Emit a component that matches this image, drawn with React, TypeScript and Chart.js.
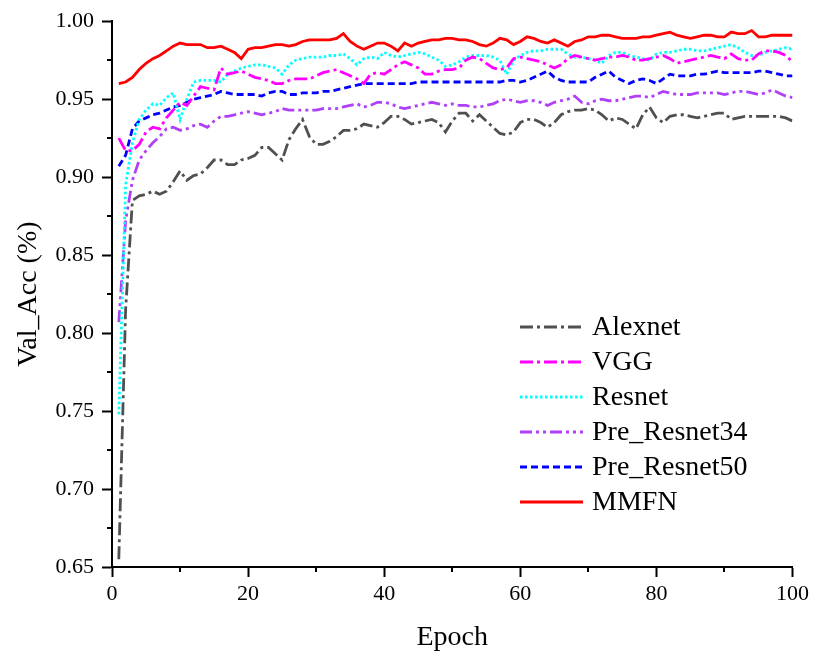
import React, { useEffect, useRef } from "react";
import { Chart, registerables } from "chart.js";

Chart.register(...registerables);

const epochs: number[] = Array.from({ length: 100 }, (_, i) => i + 1);

const alexnet: number[] = [
  0.655, 0.815, 0.885, 0.888, 0.889, 0.891, 0.889, 0.891, 0.897, 0.904,
  0.898, 0.901, 0.902, 0.906, 0.911, 0.911, 0.908, 0.908, 0.911, 0.912,
  0.914, 0.919, 0.919, 0.915, 0.911, 0.924, 0.931, 0.937, 0.926, 0.921,
  0.921, 0.923, 0.926, 0.930, 0.930, 0.931, 0.934, 0.933, 0.932, 0.935,
  0.939, 0.939, 0.937, 0.934, 0.935, 0.936, 0.937, 0.935, 0.929, 0.936,
  0.941, 0.941, 0.936, 0.940, 0.936, 0.932, 0.928, 0.927, 0.929, 0.935,
  0.937, 0.937, 0.935, 0.932, 0.935, 0.940, 0.942, 0.943, 0.943, 0.944,
  0.943, 0.940, 0.936, 0.938, 0.937, 0.934, 0.931, 0.940, 0.945, 0.938,
  0.935, 0.939, 0.940, 0.940, 0.939, 0.938, 0.939, 0.940, 0.941, 0.941,
  0.937, 0.938, 0.939, 0.939, 0.939, 0.939, 0.939, 0.939, 0.938, 0.936,
];

const vgg: number[] = [
  0.925, 0.917, 0.917, 0.921, 0.929, 0.932, 0.931, 0.938, 0.943, 0.948,
  0.946, 0.952, 0.958, 0.957, 0.956, 0.970, 0.966, 0.967, 0.968, 0.966,
  0.964, 0.963, 0.962, 0.960, 0.960, 0.962, 0.963, 0.963, 0.963, 0.965,
  0.967, 0.968, 0.969, 0.967, 0.965, 0.963, 0.960, 0.966, 0.967, 0.966,
  0.969, 0.972, 0.974, 0.972, 0.970, 0.966, 0.966, 0.968, 0.969, 0.969,
  0.970, 0.975, 0.977, 0.976, 0.973, 0.970, 0.969, 0.970, 0.976, 0.977,
  0.976, 0.975, 0.974, 0.972, 0.970, 0.972, 0.976, 0.978, 0.977, 0.976,
  0.975, 0.976, 0.977, 0.977, 0.978, 0.977, 0.975, 0.975, 0.976, 0.977,
  0.978, 0.976, 0.973, 0.974, 0.975, 0.976, 0.977, 0.978, 0.977, 0.976,
  0.979, 0.976, 0.975, 0.975, 0.979, 0.981, 0.981, 0.980, 0.978, 0.974,
];

const resnet: number[] = [
  0.748, 0.895, 0.922, 0.937, 0.943, 0.947, 0.946, 0.951, 0.954, 0.937,
  0.950, 0.961, 0.962, 0.962, 0.962, 0.961, 0.966, 0.968, 0.970, 0.971,
  0.972, 0.972, 0.971, 0.970, 0.966, 0.972, 0.975, 0.976, 0.977, 0.977,
  0.977, 0.978, 0.978, 0.979, 0.976, 0.972, 0.976, 0.977, 0.976, 0.980,
  0.978, 0.977, 0.978, 0.979, 0.980, 0.979, 0.977, 0.975, 0.971, 0.972,
  0.974, 0.977, 0.978, 0.978, 0.978, 0.977, 0.975, 0.966, 0.975, 0.978,
  0.980, 0.981, 0.981, 0.982, 0.982, 0.982, 0.979, 0.977, 0.977, 0.976,
  0.975, 0.973, 0.978, 0.980, 0.980, 0.978, 0.977, 0.976, 0.975, 0.979,
  0.980, 0.980, 0.981, 0.982, 0.982, 0.981, 0.981, 0.982, 0.983, 0.984,
  0.985, 0.983, 0.980, 0.978, 0.978, 0.980, 0.981, 0.982, 0.983, 0.982,
];

const preResnet34: number[] = [
  0.807, 0.872, 0.898, 0.911, 0.917, 0.922, 0.926, 0.931, 0.932, 0.930,
  0.931, 0.933, 0.934, 0.932, 0.936, 0.939, 0.939, 0.940, 0.941, 0.942,
  0.941, 0.940, 0.941, 0.942, 0.944, 0.943, 0.943, 0.943, 0.943, 0.943,
  0.944, 0.944, 0.944, 0.945, 0.946, 0.947, 0.945, 0.946, 0.948, 0.948,
  0.947, 0.945, 0.944, 0.945, 0.946, 0.947, 0.948, 0.947, 0.946, 0.947,
  0.946, 0.946, 0.945, 0.945, 0.946, 0.947, 0.949, 0.950, 0.949, 0.948,
  0.949, 0.949, 0.948, 0.946, 0.948, 0.949, 0.950, 0.952, 0.948, 0.947,
  0.949, 0.950, 0.949, 0.949, 0.950, 0.951, 0.952, 0.952, 0.951, 0.953,
  0.955, 0.954, 0.953, 0.953, 0.953, 0.954, 0.954, 0.954, 0.954, 0.953,
  0.954, 0.955, 0.955, 0.954, 0.953, 0.954, 0.956, 0.954, 0.952, 0.951,
];

const preResnet50: number[] = [
  0.907, 0.914, 0.931, 0.936, 0.938, 0.940, 0.941, 0.943, 0.945, 0.946,
  0.948, 0.950, 0.951, 0.952, 0.953, 0.955, 0.954, 0.953, 0.953, 0.953,
  0.953, 0.952, 0.954, 0.955, 0.955, 0.953, 0.953, 0.954, 0.954, 0.954,
  0.955, 0.955, 0.956, 0.957, 0.958, 0.959, 0.960, 0.960, 0.960, 0.960,
  0.960, 0.960, 0.960, 0.960, 0.961, 0.961, 0.961, 0.961, 0.961, 0.961,
  0.961, 0.961, 0.961, 0.961, 0.961, 0.961, 0.961, 0.962, 0.962, 0.961,
  0.962, 0.964, 0.966, 0.968, 0.964, 0.962, 0.961, 0.961, 0.961, 0.961,
  0.964, 0.966, 0.968, 0.964, 0.962, 0.960, 0.962, 0.963, 0.962, 0.960,
  0.963, 0.966, 0.965, 0.965, 0.965, 0.966, 0.966, 0.967, 0.968, 0.967,
  0.967, 0.967, 0.967, 0.967, 0.968, 0.968, 0.967, 0.966, 0.965, 0.965,
];

const mmfn: number[] = [
  0.960, 0.961, 0.964, 0.969, 0.973, 0.976, 0.978, 0.981, 0.984, 0.986,
  0.985, 0.985, 0.985, 0.983, 0.983, 0.984, 0.982, 0.980, 0.976, 0.982,
  0.983, 0.983, 0.984, 0.985, 0.985, 0.984, 0.985, 0.987, 0.988, 0.988,
  0.988, 0.988, 0.989, 0.992, 0.987, 0.984, 0.982, 0.984, 0.986, 0.986,
  0.984, 0.981, 0.986, 0.984, 0.986, 0.987, 0.988, 0.988, 0.989, 0.989,
  0.988, 0.988, 0.987, 0.985, 0.984, 0.986, 0.989, 0.988, 0.985, 0.987,
  0.990, 0.989, 0.987, 0.986, 0.988, 0.986, 0.984, 0.987, 0.988, 0.990,
  0.990, 0.991, 0.991, 0.990, 0.989, 0.989, 0.989, 0.990, 0.990, 0.991,
  0.992, 0.993, 0.991, 0.990, 0.989, 0.990, 0.991, 0.991, 0.990, 0.990,
  0.993, 0.992, 0.992, 0.994, 0.990, 0.990, 0.991, 0.991, 0.991, 0.991,
];

const seriesNames: string[] = ["Alexnet", "VGG", "Resnet", "Pre_Resnet34", "Pre_Resnet50", "MMFN"];
const seriesValues: number[][] = [alexnet, vgg, resnet, preResnet34, preResnet50, mmfn];
const seriesColors: string[] = ["#505050", "#ff00ff", "#00ffff", "#b040f8", "#0000ff", "#ff0000"];
const seriesDashes: number[][] = [
  [13, 4, 3, 4],
  [13, 4, 3, 4],
  [2.5, 2.5],
  [12, 4, 3, 4, 3, 4],
  [7, 4],
  [],
];

const xMinorTicks: number[] = [10, 30, 50, 70, 90];
const yMinorTicks: number[] = [0.675, 0.725, 0.775, 0.825, 0.875, 0.925, 0.975];

const FONT = "'Liberation Serif', 'Times New Roman', serif";

const minorTickPlugin = {
  id: "minorTicks",
  afterDraw(chart: any) {
    const ctx = chart.ctx;
    const xs = chart.scales.x;
    const ys = chart.scales.y;
    const area = chart.chartArea;
    ctx.save();
    ctx.strokeStyle = "#000";
    ctx.lineWidth = 2;
    ctx.setLineDash([]);
    for (const v of xMinorTicks) {
      const px = Math.round(xs.getPixelForValue(v));
      ctx.beginPath();
      ctx.moveTo(px, area.bottom);
      ctx.lineTo(px, area.bottom + 5);
      ctx.stroke();
    }
    for (const v of yMinorTicks) {
      const py = Math.round(ys.getPixelForValue(v));
      ctx.beginPath();
      ctx.moveTo(area.left, py);
      ctx.lineTo(area.left - 5, py);
      ctx.stroke();
    }
    ctx.restore();
  },
};

const legendPlugin = {
  id: "innerLegend",
  afterDraw(chart: any) {
    const ctx = chart.ctx;
    const x0 = 520;
    const x1 = 583;
    const textX = 592;
    const y0 = 327;
    const step = 35;
    ctx.save();
    ctx.font = `28px ${FONT}`;
    ctx.textAlign = "left";
    ctx.textBaseline = "middle";
    seriesNames.forEach((name, i) => {
      const y = y0 + i * step;
      ctx.strokeStyle = seriesColors[i];
      ctx.lineWidth = 3;
      ctx.setLineDash(seriesDashes[i]);
      ctx.beginPath();
      ctx.moveTo(x0, y);
      ctx.lineTo(x1, y);
      ctx.stroke();
      ctx.setLineDash([]);
      ctx.fillStyle = "#000";
      ctx.fillText(name, textX, y + 1);
    });
    ctx.restore();
  },
};

export default function App() {
  const canvasRef = useRef<HTMLCanvasElement | null>(null);

  useEffect(() => {
    if (!canvasRef.current) return;
    const datasets = seriesNames.map((name, i) => ({
      label: name,
      data: epochs.map((e, j) => ({ x: e, y: seriesValues[i][j] })),
      borderColor: seriesColors[i],
      backgroundColor: seriesColors[i],
      borderWidth: 2.8,
      borderDash: seriesDashes[i],
      pointRadius: 0,
      tension: 0,
      fill: false,
    }));
    const chart = new Chart(canvasRef.current, {
      type: "line",
      data: { datasets: datasets as any },
      options: {
        responsive: false,
        animation: false,
        layout: { padding: { top: 17, right: 19, left: 0, bottom: 0 } },
        plugins: {
          legend: { display: false },
          tooltip: { enabled: false },
        },
        scales: {
          x: {
            type: "linear",
            min: 0,
            max: 100,
            ticks: {
              stepSize: 20,
              color: "#000",
              font: { family: FONT, size: 22 },
              padding: 4,
              maxRotation: 0,
            },
            grid: {
              display: true,
              drawOnChartArea: false,
              drawTicks: true,
              tickLength: 10,
              tickWidth: 2,
              tickColor: "#000",
            },
            border: { display: true, color: "#000", width: 2 },
            title: {
              display: true,
              text: "Epoch",
              color: "#000",
              font: { family: FONT, size: 28 },
              padding: { top: 0, bottom: 3 },
            },
            afterFit: (scale: any) => {
              scale.height = 90;
            },
          },
          y: {
            type: "linear",
            min: 0.65,
            max: 1.0,
            ticks: {
              stepSize: 0.05,
              color: "#000",
              font: { family: FONT, size: 22 },
              padding: 8,
              callback: (v: any) => Number(v).toFixed(2),
            },
            grid: {
              display: true,
              drawOnChartArea: false,
              drawTicks: true,
              tickLength: 10,
              tickWidth: 2,
              tickColor: "#000",
            },
            border: { display: true, color: "#000", width: 2 },
            title: {
              display: true,
              text: "Val_Acc (%)",
              color: "#000",
              font: { family: FONT, size: 28 },
              padding: { top: 12, bottom: 0 },
            },
            afterFit: (scale: any) => {
              scale.width = 112;
            },
          },
        },
      },
      plugins: [minorTickPlugin, legendPlugin],
    });
    return () => chart.destroy();
  }, []);

  return (
    <div style={{ position: "absolute", left: 0, top: 0, width: 813, height: 657, background: "#fff" }}>
      <canvas ref={canvasRef} width={813} height={657} style={{ display: "block" }} />
    </div>
  );
}
